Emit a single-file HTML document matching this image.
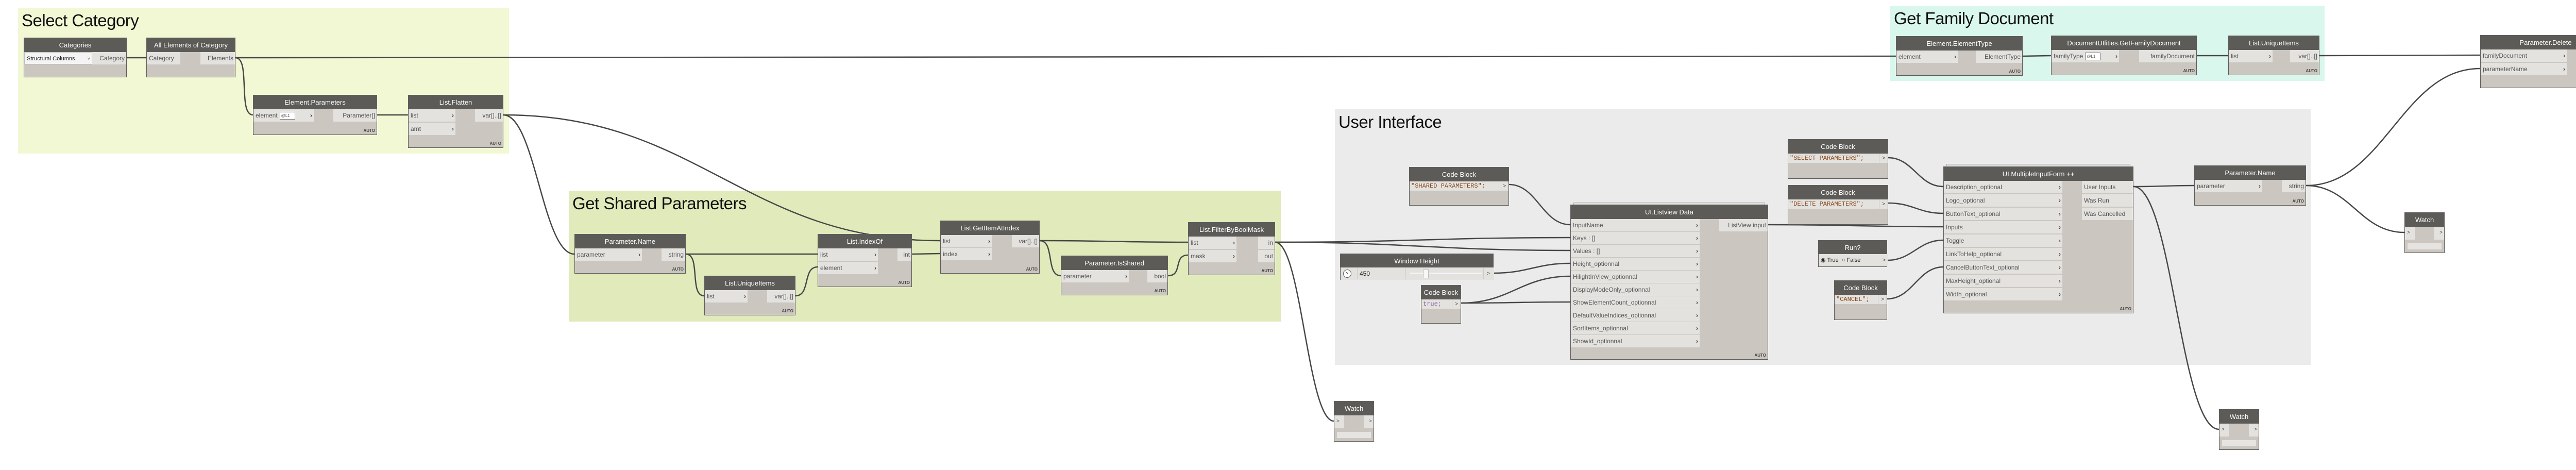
<!DOCTYPE html>
<html><head><meta charset="utf-8"><style>
body{margin:0;width:5106px;height:912px;background:#fff;position:relative;overflow:hidden;font-family:"Liberation Sans",sans-serif}
.g{position:absolute}
.gt{position:absolute;left:7px;top:6px;font-size:33px;color:#111;white-space:nowrap;letter-spacing:-0.5px}
.n{position:absolute;background:#cbc7c0;border:1px solid #5e5d5b;box-sizing:border-box}
.h{height:27px;background:#5c5b58;color:#fff;text-align:center;line-height:27px;font-size:13px;white-space:nowrap;overflow:hidden}
.i,.o{position:absolute;background:#e4e2df;height:24px;line-height:24px;font-size:12px;color:#555;white-space:nowrap;box-sizing:border-box}
.i{left:0;padding-left:4px}
.o{right:0;padding-right:3px;text-align:right;padding-left:4px}
.c{position:absolute;right:3px;top:0;font-weight:bold;color:#444}
.a{position:absolute;right:3px;bottom:3px;font-size:8px;font-weight:bold;color:#444}
.cb{position:absolute;left:0;top:27px;height:18px;line-height:18px;font-family:"Liberation Mono",monospace;font-size:12px;color:#8a4a1c;background:#e4e2df;padding-left:3px;box-sizing:border-box}
.co{position:absolute;right:0;top:27px;height:18px;line-height:18px;width:16px;text-align:center;font-size:11px;color:#555;background:#e4e2df;border-left:1px solid #ccc}
.sp{display:inline-block;border:1px solid #777;background:#fff;font-size:8px;height:13px;line-height:13px;padding:0 9px 0 2px;vertical-align:middle;margin-left:4px;position:relative}
.stk{position:absolute;height:4px;border:1px solid #aaa;border-bottom:none;background:#ddd;box-sizing:border-box}
</style></head><body>

<!-- groups -->
<div class="g" style="left:35px;top:15px;width:953px;height:283px;background:#f1f8d3"><div class="gt">Select Category</div></div>
<div class="g" style="left:1104px;top:370px;width:1382px;height:254px;background:#e0eabb"><div class="gt">Get Shared Parameters</div></div>
<div class="g" style="left:2591px;top:212px;width:1894px;height:496px;background:#ebebeb"><div class="gt">User Interface</div></div>
<div class="g" style="left:3669px;top:11px;width:843px;height:146px;background:#d9f7ec"><div class="gt">Get Family Document</div></div>

<!-- wires -->
<svg style="position:absolute;left:0;top:0" width="5106" height="912" fill="none" stroke="#474747" stroke-width="2.5">
<path d="M246 112 L284 112"/>
<path d="M457 112 C1000 112 3100 109 3680 109"/>
<path d="M457 112 C487 112 461 223 491 223"/>
<path d="M732 223 L792 223"/>
<path d="M977 223 C1039 223 1053 493 1115 493"/>
<path d="M977 223 C1357 223 1445 467 1825 467"/>
<path d="M1331 493 L1587 493"/>
<path d="M1331 493 C1361 493 1337 574 1367 574"/>
<path d="M1544 574 C1574 574 1557 518 1587 518"/>
<path d="M1770 493 L1825 492"/>
<path d="M2018 467 C2148 467 2176 470 2306 470"/>
<path d="M2018 467 C2048 467 2029 535 2059 535"/>
<path d="M2267 535 C2297 535 2276 495 2306 495"/>
<path d="M2475 470 C2733 470 2790 461 3048 461"/>
<path d="M2475 470 C2733 470 2790 486 3048 486"/>
<path d="M2475 470 C2526 470 2538 817 2589 817"/>
<path d="M2929 358 C2983 358 2994 436 3048 436"/>
<path d="M2899 530 C2966 530 2981 511 3048 511"/>
<path d="M2836 588 C2931 588 2953 536 3048 536"/>
<path d="M2836 588 C2931 588 2953 586 3048 586"/>
<path d="M3432 436 C3585 436 3619 440 3772 440"/>
<path d="M3665 306 C3713 306 3724 362 3772 362"/>
<path d="M3665 394 C3713 394 3724 414 3772 414"/>
<path d="M3663 505 C3712 505 3723 466 3772 466"/>
<path d="M3663 580 C3712 580 3723 518 3772 518"/>
<path d="M4141 362 C4194 362 4206 360 4259 360"/>
<path d="M4141 362 C4216 362 4232 833 4307 833"/>
<path d="M4476 360 C4628 360 4662 133 4814 133"/>
<path d="M4476 360 C4562 360 4581 451 4667 451"/>
<path d="M3926 109 L3981 108"/>
<path d="M4264 108 L4325 108"/>
<path d="M4502 108 C4658 108 4658 107 4814 107"/>
</svg>

<!-- Select Category -->
<div class="n" style="left:46px;top:73px;width:200px;height:77px"><div class="h">Categories</div>
<div class="i" style="top:27px;width:134px;background:#f4f4f4;border:1px solid #bbb;font-size:11px;color:#222">Structural Columns <span style="font-size:9px;color:#777;position:absolute;right:5px">˅</span></div>
<div class="o" style="top:27px;width:66px">Category</div></div>

<div class="n" style="left:284px;top:73px;width:173px;height:77px"><div class="h">All Elements of Category</div>
<div class="i" style="top:27px;width:65px">Category</div>
<div class="o" style="top:27px;width:67px">Elements</div></div>

<div class="n" style="left:491px;top:184px;width:241px;height:78px"><div class="h">Element.Parameters</div>
<div class="i" style="top:27px;width:117px">element<span class="sp">@L1</span><span class="c">›</span></div>
<div class="o" style="top:27px;width:84px">Parameter[]</div><div class="a">AUTO</div></div>

<div class="n" style="left:792px;top:184px;width:185px;height:103px"><div class="h">List.Flatten</div>
<div class="i" style="top:27px;width:91px">list<span class="c">›</span></div>
<div class="i" style="top:53px;width:91px">amt<span class="c">›</span></div>
<div class="o" style="top:27px;width:54px">var[]..[]</div><div class="a">AUTO</div></div>

<!-- Get Shared Parameters -->
<div class="n" style="left:1115px;top:454px;width:216px;height:77px"><div class="h">Parameter.Name</div>
<div class="i" style="top:27px;width:130px">parameter<span class="c">›</span></div>
<div class="o" style="top:27px;width:46px">string</div><div class="a">AUTO</div></div>

<div class="n" style="left:1367px;top:535px;width:177px;height:77px"><div class="h">List.UniqueItems</div>
<div class="i" style="top:27px;width:83px">list<span class="c">›</span></div>
<div class="o" style="top:27px;width:54px">var[]..[]</div><div class="a">AUTO</div></div>

<div class="n" style="left:1587px;top:454px;width:183px;height:103px"><div class="h">List.IndexOf</div>
<div class="i" style="top:27px;width:116px">list<span class="c">›</span></div>
<div class="i" style="top:53px;width:116px">element<span class="c">›</span></div>
<div class="o" style="top:27px;width:27px">int</div><div class="a">AUTO</div></div>

<div class="n" style="left:1825px;top:428px;width:193px;height:103px"><div class="h">List.GetItemAtIndex</div>
<div class="i" style="top:27px;width:99px">list<span class="c">›</span></div>
<div class="i" style="top:52px;width:99px">index<span class="c">›</span></div>
<div class="o" style="top:27px;width:53px">var[]..[]</div><div class="a">AUTO</div></div>

<div class="n" style="left:2059px;top:496px;width:208px;height:77px"><div class="h">Parameter.IsShared</div>
<div class="i" style="top:27px;width:131px">parameter<span class="c">›</span></div>
<div class="o" style="top:27px;width:39px">bool</div><div class="a">AUTO</div></div>

<div class="n" style="left:2306px;top:431px;width:169px;height:103px"><div class="h">List.FilterByBoolMask</div>
<div class="i" style="top:27px;width:93px">list<span class="c">›</span></div>
<div class="i" style="top:53px;width:93px">mask<span class="c">›</span></div>
<div class="o" style="top:27px;width:32px">in</div>
<div class="o" style="top:53px;width:32px">out</div><div class="a">AUTO</div></div>

<!-- User Interface -->
<div class="n" style="left:2735px;top:324px;width:194px;height:75px"><div class="h">Code Block</div>
<div class="cb" style="width:176px">"SHARED PARAMETERS";</div><div class="co">&gt;</div></div>

<div class="stk" style="left:3054px;top:393px;width:372px"></div>
<div class="n" style="left:3048px;top:397px;width:384px;height:301px"><div class="h">UI.Listview Data</div>
<div class="i" style="top:27px;width:250px">InputName<span class="c">›</span></div>
<div class="i" style="top:52px;width:250px">Keys : []<span class="c">›</span></div>
<div class="i" style="top:77px;width:250px">Values : []<span class="c">›</span></div>
<div class="i" style="top:102px;width:250px">Height_optionnal<span class="c">›</span></div>
<div class="i" style="top:127px;width:250px">HilightInView_optionnal<span class="c">›</span></div>
<div class="i" style="top:152px;width:250px">DisplayModeOnly_optionnal<span class="c">›</span></div>
<div class="i" style="top:177px;width:250px">ShowElementCount_optionnal<span class="c">›</span></div>
<div class="i" style="top:202px;width:250px">DefaultValueIndices_optionnal<span class="c">›</span></div>
<div class="i" style="top:227px;width:250px">SortItems_optionnal<span class="c">›</span></div>
<div class="i" style="top:252px;width:250px">ShowId_optionnal<span class="c">›</span></div>
<div class="o" style="top:27px;width:94px">ListView input</div><div class="a">AUTO</div></div>

<div class="n" style="left:2601px;top:492px;width:298px;height:51px"><div class="h">Window Height</div>
<div style="position:absolute;left:0;top:26px;width:298px;height:24px;background:#e4e2df"></div>
<div style="position:absolute;left:5px;top:30px;width:14px;height:14px;border:1px solid #555;border-radius:50%;background:#fff;font-size:8px;text-align:center;line-height:14px">˅</div>
<div style="position:absolute;left:32px;top:27px;width:95px;height:22px;line-height:22px;font-size:12px;color:#222;border-left:1px solid #ccc;border-right:1px solid #ccc;padding-left:4px;box-sizing:border-box">450</div>
<div style="position:absolute;left:135px;top:36px;width:140px;height:3px;background:#f4f4f4"></div>
<div style="position:absolute;left:160px;top:30px;width:9px;height:15px;background:#f7f7f7;border:1px solid #bbb"></div>
<div style="position:absolute;right:0;top:27px;width:18px;height:22px;line-height:22px;font-size:11px;text-align:center;color:#555;border-left:1px solid #ccc">&gt;</div></div>

<div class="n" style="left:2758px;top:553px;width:78px;height:75px"><div class="h">Code Block</div>
<div class="cb" style="width:60px;color:#8a5aa8">true;</div><div class="co">&gt;</div></div>

<div class="n" style="left:3470px;top:270px;width:195px;height:77px"><div class="h">Code Block</div>
<div class="cb" style="width:177px">"SELECT PARAMETERS";</div><div class="co">&gt;</div></div>

<div class="n" style="left:3470px;top:359px;width:195px;height:77px"><div class="h">Code Block</div>
<div class="cb" style="width:177px">"DELETE PARAMETERS";</div><div class="co">&gt;</div></div>

<div class="n" style="left:3529px;top:466px;width:134px;height:52px"><div class="h">Run?</div>
<div class="i" style="top:26px;width:134px;font-size:11px;color:#222">◉ True &nbsp;○ False<span style="position:absolute;right:4px;color:#555">&gt;</span></div></div>

<div class="n" style="left:3560px;top:544px;width:103px;height:77px"><div class="h">Code Block</div>
<div class="cb" style="width:85px">"CANCEL";</div><div class="co">&gt;</div></div>

<div class="stk" style="left:3778px;top:318px;width:357px"></div>
<div class="n" style="left:3772px;top:323px;width:369px;height:285px"><div class="h">UI.MultipleInputForm ++</div>
<div class="i" style="top:27px;width:230px">Description_optional<span class="c">›</span></div>
<div class="i" style="top:53px;width:230px">Logo_optional<span class="c">›</span></div>
<div class="i" style="top:79px;width:230px">ButtonText_optional<span class="c">›</span></div>
<div class="i" style="top:105px;width:230px">Inputs<span class="c">›</span></div>
<div class="i" style="top:131px;width:230px">Toggle<span class="c">›</span></div>
<div class="i" style="top:157px;width:230px">LinkToHelp_optional<span class="c">›</span></div>
<div class="i" style="top:183px;width:230px">CancelButtonText_optional<span class="c">›</span></div>
<div class="i" style="top:209px;width:230px">MaxHeight_optional<span class="c">›</span></div>
<div class="i" style="top:235px;width:230px">Width_optional<span class="c">›</span></div>
<div class="o" style="top:27px;width:99px;text-align:left">User Inputs</div>
<div class="o" style="top:53px;width:99px;text-align:left">Was Run</div>
<div class="o" style="top:79px;width:99px;text-align:left">Was Cancelled</div><div class="a">AUTO</div></div>

<div class="n" style="left:4259px;top:321px;width:217px;height:78px"><div class="h">Parameter.Name</div>
<div class="i" style="top:27px;width:131px">parameter<span class="c">›</span></div>
<div class="o" style="top:27px;width:46px">string</div><div class="a">AUTO</div></div>

<!-- Get Family Document -->
<div class="n" style="left:3680px;top:70px;width:246px;height:77px"><div class="h">Element.ElementType</div>
<div class="i" style="top:27px;width:119px">element<span class="c">›</span></div>
<div class="o" style="top:27px;width:90px">ElementType</div><div class="a">AUTO</div></div>

<div class="n" style="left:3981px;top:69px;width:283px;height:77px"><div class="h">DocumentUtlities.GetFamilyDocument</div>
<div class="i" style="top:27px;width:131px">familyType<span class="sp">@L1</span><span class="c">›</span></div>
<div class="o" style="top:27px;width:111px">familyDocument</div><div class="a">AUTO</div></div>

<div class="n" style="left:4325px;top:69px;width:177px;height:77px"><div class="h">List.UniqueItems</div>
<div class="i" style="top:27px;width:85px">list<span class="c">›</span></div>
<div class="o" style="top:27px;width:56px">var[]..[]</div><div class="a">AUTO</div></div>

<div class="n" style="left:4814px;top:68px;width:254px;height:103px"><div class="h">Parameter.Delete</div>
<div class="i" style="top:27px;width:167px">familyDocument<span class="c">›</span></div>
<div class="i" style="top:53px;width:167px">parameterName<span class="c">›</span></div>
<div class="o" style="top:27px;width:47px">watch</div><div class="a">AUTO</div></div>

<!-- Watches -->
<div class="n" style="left:2589px;top:778px;width:78px;height:79px"><div class="h">Watch</div>
<div class="i" style="top:27px;width:19px;height:25px;font-size:10px">&gt;</div>
<div class="o" style="top:27px;width:19px;height:25px;font-size:10px">&gt;</div>
<div style="position:absolute;left:5px;top:59px;width:66px;height:12px;background:#e6e4e1"></div></div>

<div class="n" style="left:4307px;top:794px;width:78px;height:79px"><div class="h">Watch</div>
<div class="i" style="top:27px;width:19px;height:25px;font-size:10px">&gt;</div>
<div class="o" style="top:27px;width:19px;height:25px;font-size:10px">&gt;</div>
<div style="position:absolute;left:5px;top:59px;width:66px;height:12px;background:#e6e4e1"></div></div>

<div class="n" style="left:4667px;top:412px;width:78px;height:79px"><div class="h">Watch</div>
<div class="i" style="top:27px;width:19px;height:25px;font-size:10px">&gt;</div>
<div class="o" style="top:27px;width:19px;height:25px;font-size:10px">&gt;</div>
<div style="position:absolute;left:5px;top:59px;width:66px;height:12px;background:#e6e4e1"></div></div>

</body></html>
